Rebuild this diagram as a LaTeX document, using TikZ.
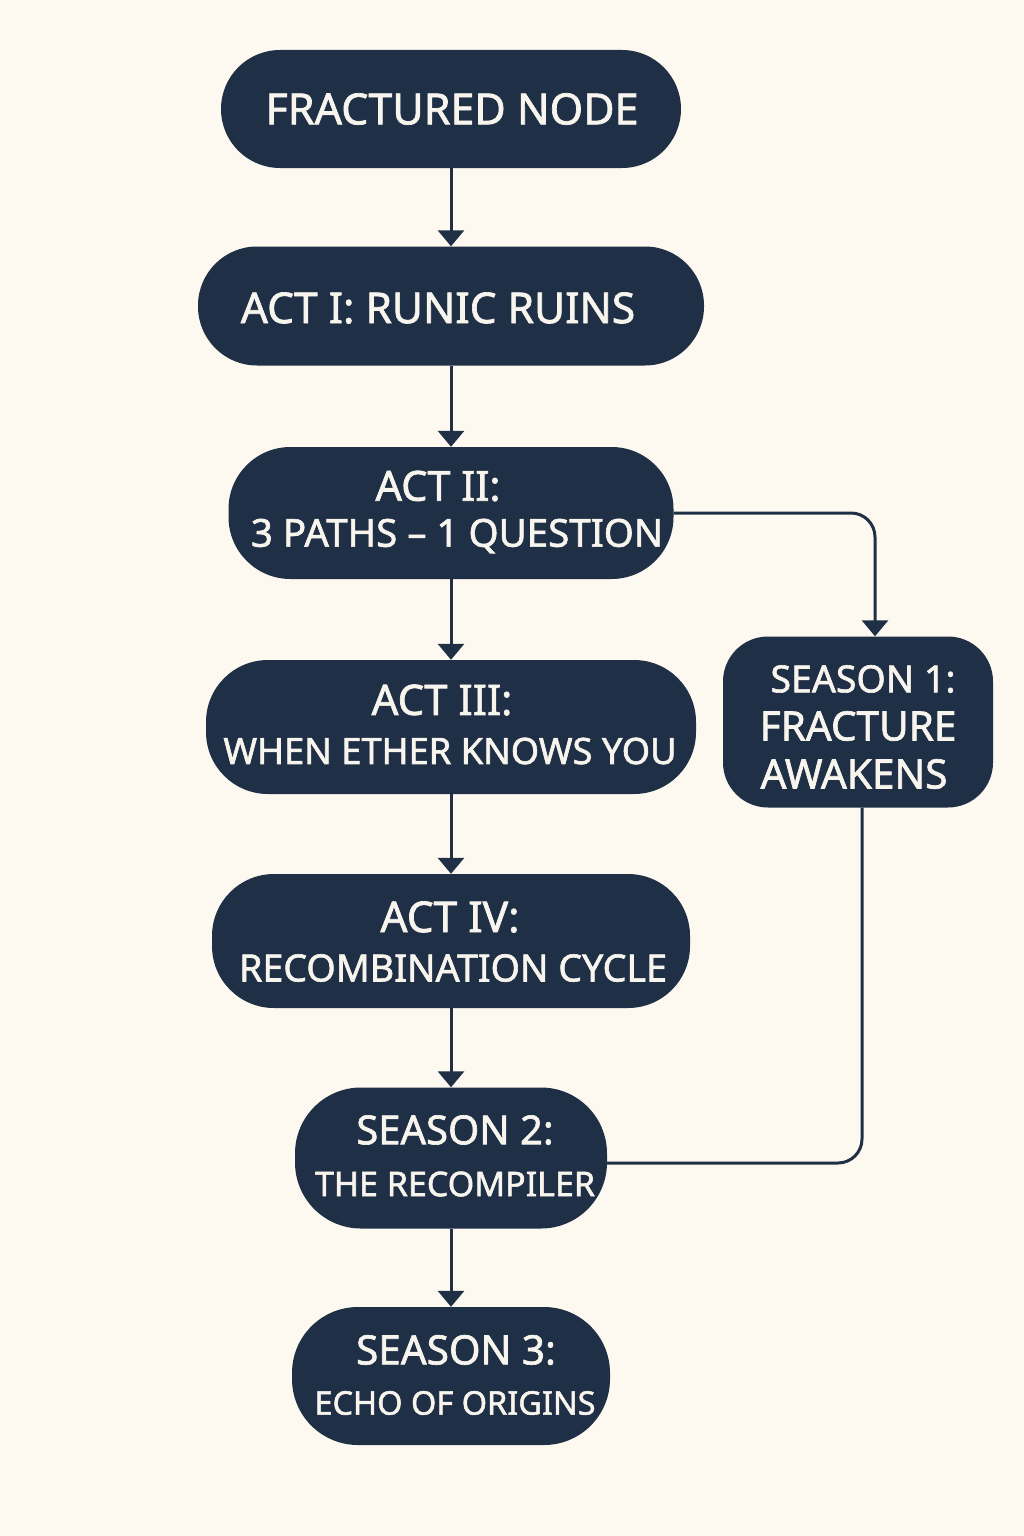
\documentclass[tikz,border=0pt]{standalone}
\usepackage{fontspec}
\setmainfont{Noto Sans}[RawFeature={embolden=1.6}]
\usetikzlibrary{arrows.meta}
\definecolor{navy}{HTML}{1F2F45}
\definecolor{cream}{HTML}{FDF9F0}
\definecolor{txt}{HTML}{F8F5EE}
\newcommand{\fs}[1]{\fontsize{#1}{#1}\selectfont}
\begin{document}
\begin{tikzpicture}[x=1pt,y=-1pt,
  box/.style={draw=none,fill=navy,inner sep=0pt},
  lbl/.style={text=txt,inner sep=0pt,anchor=center},
  conn/.style={draw=navy,line width=3pt},
  arr/.style={conn,-{Triangle[width=26pt,length=16pt]}}]
\fill[cream] (0,0) rectangle (1024,1536);
\useasboundingbox (0,0) rectangle (1024,1536);
% shapes
\node[box,minimum width=460pt,minimum height=118pt,rounded corners=59pt] (n1) at (451,109) {};
\node[box,minimum width=506pt,minimum height=119pt,rounded corners=59pt] (n2) at (451,306) {};
\node[box,minimum width=445pt,minimum height=132pt,rounded corners=62pt] (n3) at (451,513) {};
\node[box,minimum width=490pt,minimum height=134pt,rounded corners=62pt] (n4) at (451,727) {};
\node[box,minimum width=478pt,minimum height=134pt,rounded corners=62pt] (n5) at (451,941) {};
\node[box,minimum width=312pt,minimum height=141pt,rounded corners=66pt] (n6) at (451,1158) {};
\node[box,minimum width=318pt,minimum height=138pt,rounded corners=66pt] (n7) at (451,1376) {};
\node[box,minimum width=270pt,minimum height=171pt,rounded corners=45pt] (s1) at (858,722) {};
% texts
\node[lbl,font=\fs{43}] (t1) at (452,109) {FRACTURED NODE};
\node[lbl,font=\fs{42.5}] (t2) at (438,308) {ACT I: RUNIC RUINS};
\node[lbl,font=\fs{41.5}] (t3a) at (438,486) {ACT II:};
\node[lbl,font=\fs{38.5}] (t3b) at (457,536) {3 PATHS – 1 QUESTION};
\node[lbl,font=\fs{42}] (t4a) at (442,700) {ACT III:};
\node[lbl,font=\fs{36.3}] (t4b) at (450,751) {WHEN ETHER KNOWS YOU};
\node[lbl,font=\fs{42.5}] (t5a) at (450,917) {ACT IV:};
\node[lbl,font=\fs{37.6}] (t5b) at (453,968) {RECOMBINATION CYCLE};
\node[lbl,font=\fs{40}] (t6a) at (455,1130) {SEASON 2:};
\node[lbl,font=\fs{34}] (t6b) at (455,1184) {THE RECOMPILER};
\node[lbl,font=\fs{40.5}] (t7a) at (456,1350) {SEASON 3:};
\node[lbl,font=\fs{32.5}] (t7b) at (455,1403) {ECHO OF ORIGINS};
\node[lbl,font=\fs{37.5}] (t8a) at (863,679) {SEASON 1:};
\node[lbl,font=\fs{40.5}] (t8b) at (858,726) {FRACTURE};
\node[lbl,font=\fs{40.5}] (t8c) at (854,774) {AWAKENS};
% connectors
\draw[arr] (n1.south) -- (n2.north);
\draw[arr] (n2.south) -- (n3.north);
\draw[arr] (n3.south) -- (n4.north);
\draw[arr] (n4.south) -- (n5.north);
\draw[arr] (n5.south) -- (n6.north);
\draw[arr] (n6.south) -- (n7.north);
\draw[arr,rounded corners=24pt] (n3.east) -- (875,513) -- (s1.north -| 875,0);
\draw[conn,rounded corners=24pt] (s1.south -| 862,0) -- (862,1163) -- (n6.east |- 0,1163);
\end{tikzpicture}
\end{document}
